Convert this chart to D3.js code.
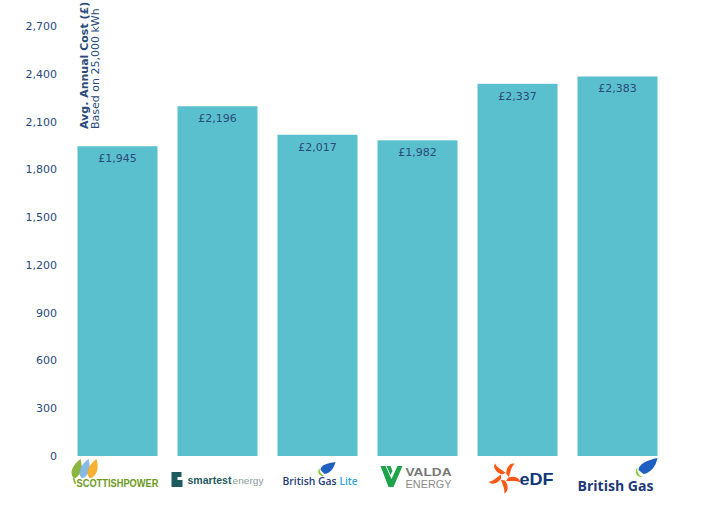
<!DOCTYPE html>
<html><head><meta charset="utf-8">
<script src="https://cdn.jsdelivr.net/npm/d3@7/dist/d3.min.js"></script>
<style>body{margin:0;background:#fff}svg{display:block}</style>
</head><body>
<script>
const suppliers = ["ScottishPower","smartestenergy","British Gas Lite","Valda Energy","EDF","British Gas"];
const costs = [1945, 2196, 2017, 1982, 2337, 2383];
const yTicks = [0,300,600,900,1200,1500,1800,2100,2400,2700];

const W=709,H=511;
const svg=d3.select("body").append("svg").attr("width",W).attr("height",H);
const textCol="#2a4b7c", barCol="#5bc0cd";
const font="Verdana, 'DejaVu Sans', sans-serif";

const x=d3.scaleBand().domain(suppliers).range([67.5,667.5]).paddingInner(0.2).paddingOuter(0.1);
const y=d3.scaleLinear().domain([0,2700]).range([456,26]);

const ax=svg.append("g").attr("transform","translate(57,0)")
  .call(d3.axisLeft(y).tickValues(yTicks).tickSize(0).tickPadding(0).tickFormat(d3.format(",")));
ax.select(".domain").remove();
ax.selectAll("text").attr("fill",textCol).style("font-family",font).style("font-size","11px");

svg.append("g").selectAll("rect").data(suppliers).join("rect")
  .attr("x",d=>x(d)).attr("width",x.bandwidth())
  .attr("y",(d,i)=>y(costs[i])).attr("height",(d,i)=>y(0)-y(costs[i]))
  .attr("fill",barCol);

svg.append("g").selectAll("text").data(suppliers).join("text")
  .attr("x",d=>x(d)+x.bandwidth()/2).attr("y",(d,i)=>y(costs[i])+16)
  .attr("text-anchor","middle").attr("fill",textCol)
  .style("font-family",font).style("font-size","11px")
  .text((d,i)=>"£"+d3.format(",")(costs[i]));

// axis title
const tt=svg.append("g");
tt.append("text").attr("transform","translate(88,129) rotate(-90)")
  .attr("fill",textCol).style("font-family",font).style("font-size","11px").style("font-weight","bold")
  .text("Avg. Annual Cost (£)");
tt.append("text").attr("transform","translate(99,129) rotate(-90)")
  .attr("fill",textCol).style("font-family",font).style("font-size","11px")
  .text("Based on 25,000 kWh");

// logos
const L=svg.append("g");
function cx(i){return x(suppliers[i]);}
// ScottishPower
{const g=L.append("g").attr("transform",`translate(${cx(0)},0)`);
 const fl=[["#7fae2a",-6],["#7bb4e0",2],["#f4a81c",10]];
 fl.forEach(([c,dx])=>g.append("path").attr("d",`M${dx+2},478 C${dx-3},472 ${dx+2},464 ${dx+9},459 C${dx+11},466 ${dx+11},474 ${dx+4},478 Z`).attr("fill",c).attr("opacity",0.9));
 g.append("path").attr("d","M-4,478 L-2,484").attr("stroke","#7fae2a").attr("stroke-width",1.5);
 g.append("text").attr("x",-1).attr("y",487).attr("textLength",82).attr("lengthAdjust","spacingAndGlyphs")
  .attr("fill","#6d9a22").style("font-family","'Liberation Sans Narrow',Arial,sans-serif").style("font-weight","bold").style("font-size","11px").text("SCOTTISHPOWER");}
// smartestenergy
{const g=L.append("g").attr("transform",`translate(${cx(1)},0)`);
 g.append("path").attr("d","M-6,472 h10 v5 h-4 v3 h5 v7 h-11 Z").attr("fill","#1f5a5e");
 g.append("text").attr("x",10).attr("y",484).attr("textLength",44).attr("lengthAdjust","spacingAndGlyphs")
  .attr("fill","#1f5a5e").style("font-weight","bold")
  .style("font-family","Arial,'Liberation Sans',sans-serif").style("font-size","10px").text("smartest");
 g.append("text").attr("x",55).attr("y",484).attr("textLength",31).attr("lengthAdjust","spacingAndGlyphs")
  .attr("fill","#8a9a9c")
  .style("font-family","Arial,'Liberation Sans',sans-serif").style("font-size","9.5px").text("energy");}
// British Gas Lite
{const g=L.append("g").attr("transform",`translate(${cx(2)},0)`);
 g.append("path").attr("d","M43,470 C43,465 50,463 58,462 C56,469 53,473 47,474 Z").attr("fill","#1f5fbf");
 g.append("path").attr("d","M42,468 C39,472 42,477 47,476 C44,475 42,472 42,468 Z").attr("fill","#8cc63f");
 g.append("text").attr("x",5).attr("y",485).attr("textLength",54).attr("lengthAdjust","spacingAndGlyphs")
  .attr("fill","#1e3a78").style("font-family","'Open Sans',Arial,sans-serif").style("font-size","10px").style("font-weight","600").text("British Gas");
 g.append("text").attr("x",62).attr("y",485).attr("textLength",18).attr("lengthAdjust","spacingAndGlyphs")
  .attr("fill","#2aa3dc").style("font-family","'Open Sans',Arial,sans-serif").style("font-size","10px").style("font-weight","600").text("Lite");}
// Valda
{const g=L.append("g").attr("transform",`translate(${cx(3)},0)`);
 g.append("path").attr("d","M3,466 L8,466 L14,479 L20,466 L25,466 L16,487 L11,487 Z").attr("fill","#1fa34a");
 g.append("path").attr("d","M9,466 L13,466 L15,471 L13,475 Z").attr("fill","#1fa34a");
 g.append("text").attr("x",28).attr("y",476).attr("textLength",46).attr("lengthAdjust","spacingAndGlyphs")
  .attr("fill","#777").style("font-family","Arial,sans-serif").style("font-weight","bold").style("font-size","11px").text("VALDA");
 g.append("text").attr("x",28).attr("y",488).attr("textLength",46).attr("lengthAdjust","spacingAndGlyphs")
  .attr("fill","#8a8a8a").style("font-family","Arial,sans-serif").style("font-size","10.5px").text("ENERGY");}
// EDF
{const g=L.append("g").attr("transform",`translate(${cx(4)+27},477)`);
 [0,72,144,216,288].forEach(a=>g.append("path")
   .attr("d","M3,-2 C6,-8 12,-10 15,-7 C11,-6 8,-2 4,2 Z")
   .attr("transform",`rotate(${a-100})`).attr("fill","#fe5716"));
 L.append("text").attr("x",cx(4)+42).attr("y",485).attr("textLength",34).attr("lengthAdjust","spacingAndGlyphs")
  .attr("fill","#10367a").style("font-family","Arial,sans-serif").style("font-weight","bold").style("font-size","17px").text("eDF");}
// British Gas
{const g=L.append("g").attr("transform",`translate(${cx(5)},0)`);
 g.append("path").attr("d","M61,470 C61,464 70,460 80,458 C78,467 73,473 66,474 Z").attr("fill","#1f5fbf");
 g.append("path").attr("d","M60,467 C56,472 59,478 66,477 C61,476 59,472 60,467 Z").attr("fill","#8cc63f");
 g.append("text").attr("x",0).attr("y",491).attr("textLength",76).attr("lengthAdjust","spacingAndGlyphs")
  .attr("fill","#1e3a78").style("font-family","'Open Sans',Arial,sans-serif").style("font-weight","bold").style("font-size","15px").text("British Gas");}
</script>
</body></html>
